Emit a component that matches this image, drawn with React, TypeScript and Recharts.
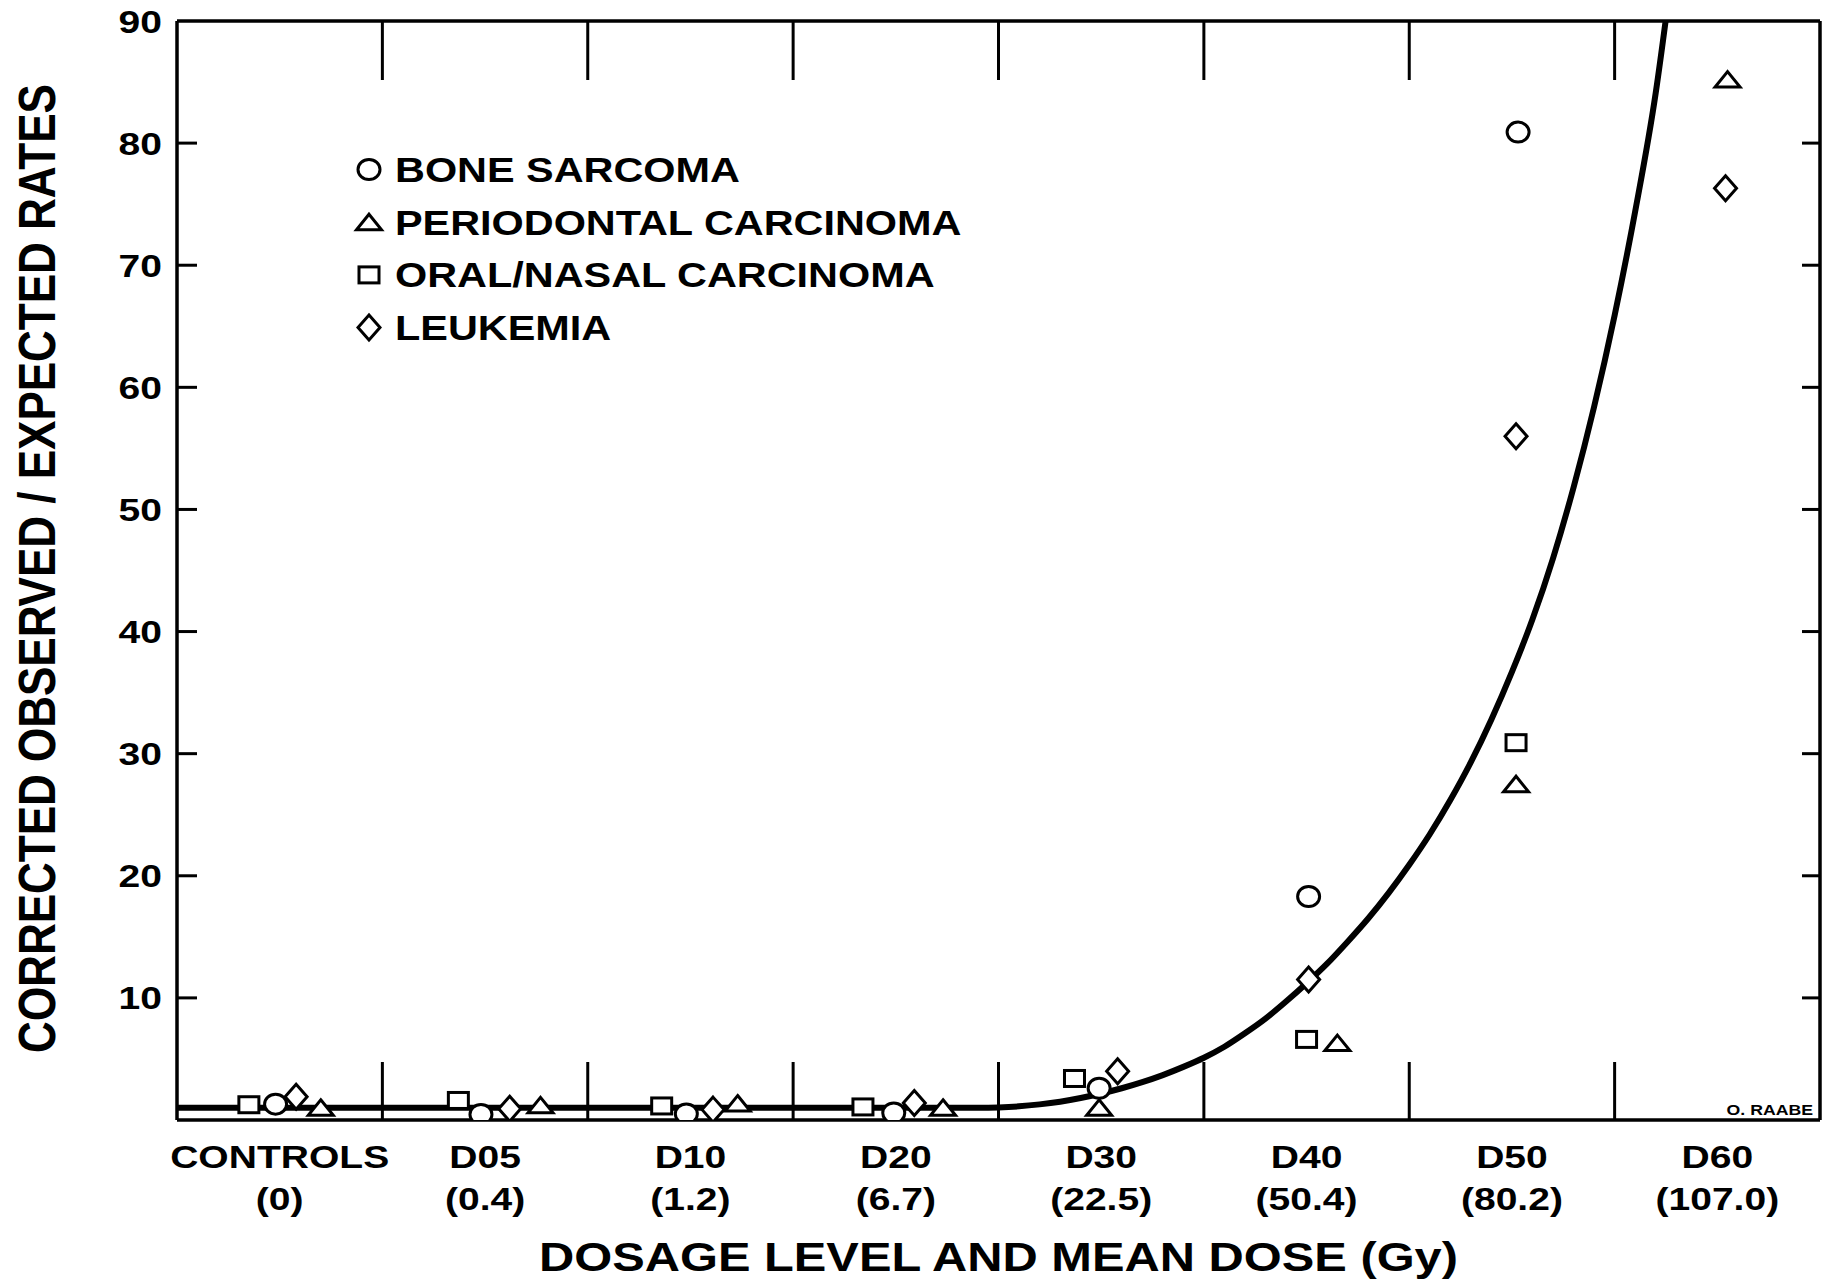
import React from 'react';
import { ComposedChart, XAxis, YAxis, Line, Scatter, Legend, ReferenceLine } from 'recharts';

// ---------- data ----------
const categories = ['CONTROLS', 'D05', 'D10', 'D20', 'D30', 'D40', 'D50', 'D60'];
const meanDoses = ['(0)', '(0.4)', '(1.2)', '(6.7)', '(22.5)', '(50.4)', '(80.2)', '(107.0)'];
const yTicks = [10, 20, 30, 40, 50, 60, 70, 80, 90];
const bandEdges = [1, 2, 3, 4, 5, 6, 7];
const bandCenters = [0.5, 1.5, 2.5, 3.5, 4.5, 5.5, 6.5, 7.5];

// x = position inside the dosage band (band i spans i..i+1), y = observed/expected
const boneSarcoma = [
  { x: 0.48, y: 1.3 },
  { x: 1.48, y: 0.45 },
  { x: 2.48, y: 0.5 },
  { x: 3.49, y: 0.57 },
  { x: 4.49, y: 2.6 },
  { x: 5.51, y: 18.3 },
  { x: 6.53, y: 80.9 },
];
const periodontalCarcinoma = [
  { x: 0.7, y: 1.0 },
  { x: 1.77, y: 1.2 },
  { x: 2.73, y: 1.35 },
  { x: 3.73, y: 1.0 },
  { x: 4.49, y: 1.0 },
  { x: 5.65, y: 6.3 },
  { x: 6.52, y: 27.5 },
  { x: 7.55, y: 85.2 },
];
const oralNasalCarcinoma = [
  { x: 0.35, y: 1.25 },
  { x: 1.37, y: 1.6 },
  { x: 2.36, y: 1.15 },
  { x: 3.34, y: 1.07 },
  { x: 4.37, y: 3.4 },
  { x: 5.5, y: 6.6 },
  { x: 6.52, y: 30.9 },
];
const leukemia = [
  { x: 0.58, y: 1.9 },
  { x: 1.62, y: 0.92 },
  { x: 2.61, y: 0.85 },
  { x: 3.59, y: 1.4 },
  { x: 4.58, y: 4.0 },
  { x: 5.51, y: 11.5 },
  { x: 6.52, y: 56.0 },
  { x: 7.54, y: 76.3 },
];
// fitted curve
const fitCurve = [
  { x: 0, y: 1.0 },
  { x: 3.8, y: 1.0 },
  { x: 3.9, y: 1.0 },
  { x: 4.0, y: 1.03 },
  { x: 4.1, y: 1.12 },
  { x: 4.2, y: 1.28 },
  { x: 4.3, y: 1.5 },
  { x: 4.4, y: 1.8 },
  { x: 4.5, y: 2.17 },
  { x: 4.6, y: 2.6 },
  { x: 4.7, y: 3.1 },
  { x: 4.8, y: 3.68 },
  { x: 4.9, y: 4.35 },
  { x: 5.0, y: 5.1 },
  { x: 5.1, y: 6.0 },
  { x: 5.2, y: 7.1 },
  { x: 5.3, y: 8.3 },
  { x: 5.4, y: 9.7 },
  { x: 5.5, y: 11.2 },
  { x: 5.6, y: 12.8 },
  { x: 5.7, y: 14.6 },
  { x: 5.8, y: 16.5 },
  { x: 5.9, y: 18.6 },
  { x: 6.0, y: 20.9 },
  { x: 6.1, y: 23.4 },
  { x: 6.2, y: 26.2 },
  { x: 6.3, y: 29.3 },
  { x: 6.4, y: 32.8 },
  { x: 6.5, y: 36.7 },
  { x: 6.6, y: 41.0 },
  { x: 6.7, y: 46.0 },
  { x: 6.8, y: 51.8 },
  { x: 6.9, y: 58.4 },
  { x: 7.0, y: 65.9 },
  { x: 7.1, y: 74.4 },
  { x: 7.2, y: 84.1 },
  { x: 7.26, y: 91.5 },
];

const seriesNames = ['BONE SARCOMA', 'PERIODONTAL CARCINOMA', 'ORAL/NASAL CARCINOMA', 'LEUKEMIA'];

// ---------- styling ----------
const FONT = "'Liberation Sans', Arial, Helvetica, sans-serif";
const SX = 1.22;
const INK = '#000';

const StretchText = ({ x, y, size, anchor, children, sx = SX }: any) => (
  <text
    transform={`translate(${x},${y}) scale(${sx},1)`}
    textAnchor={anchor}
    fontFamily={FONT}
    fontWeight={700}
    fontSize={size}
    fill={INK}
  >
    {children}
  </text>
);

// ---------- marker shapes ----------
const CircleMark = ({ cx, cy }: any) => (
  <ellipse cx={cx} cy={cy} rx={11} ry={10} fill="#fff" stroke={INK} strokeWidth={3} />
);
const TriangleMark = ({ cx, cy }: any) => (
  <polygon
    points={`${cx},${cy - 8} ${cx + 12.5},${cy + 7.5} ${cx - 12.5},${cy + 7.5}`}
    fill="#fff"
    stroke={INK}
    strokeWidth={3}
  />
);
const SquareMark = ({ cx, cy }: any) => (
  <rect x={cx - 10} y={cy - 8} width={20} height={16} fill="#fff" stroke={INK} strokeWidth={3} />
);
const DiamondMark = ({ cx, cy }: any) => (
  <polygon
    points={`${cx},${cy - 12.5} ${cx + 11},${cy} ${cx},${cy + 12.5} ${cx - 11},${cy}`}
    fill="#fff"
    stroke={INK}
    strokeWidth={3}
  />
);
const markShapes = [CircleMark, TriangleMark, SquareMark, DiamondMark];

// ---------- axis ticks ----------
const bottomTicks = [...bandEdges, ...bandCenters].sort((a, b) => a - b);

const BottomTick = (props: any) => {
  const { x, y, payload } = props;
  const v = payload.value;
  if (Number.isInteger(v)) {
    return <line x1={x} x2={x} y1={y} y2={y - 58} stroke={INK} strokeWidth={3} />;
  }
  const i = Math.floor(v);
  return (
    <g>
      <StretchText x={x} y={y + 47.5} size={32} anchor="middle">
        {categories[i]}
      </StretchText>
      <StretchText x={x} y={y + 89.5} size={32} anchor="middle">
        {meanDoses[i]}
      </StretchText>
    </g>
  );
};

// upper half of each band divider (hangs down from the top frame)
const TopDivider = (p: any) => {
  const top = Math.min(p.y1, p.y2);
  return <line x1={p.x1} x2={p.x1} y1={top} y2={top + 59} stroke={INK} strokeWidth={3} />;
};

const LeftTick = (props: any) => {
  const { x, y, payload } = props;
  return (
    <g>
      {payload.value < 90 && <line x1={x} x2={x + 20} y1={y} y2={y} stroke={INK} strokeWidth={3} />}
      <StretchText x={x - 15} y={y + 11.5} size={32} anchor="end">
        {payload.value}
      </StretchText>
    </g>
  );
};

const RightTick = (props: any) => {
  const { x, y, payload } = props;
  if (payload.value >= 90) return <g />;
  return <line x1={x} x2={x - 18} y1={y} y2={y} stroke={INK} strokeWidth={3} />;
};

// ---------- axis titles ----------
const YTitle = (props: any) => {
  const vb = props.viewBox || { x: 0, y: 0, width: 0, height: 0 };
  const cx = vb.x + 54.5;
  const cy = vb.y + vb.height / 2 - 2;
  return (
    <text
      transform={`translate(${cx},${cy}) scale(1.16,1) rotate(-90)`}
      textAnchor="middle"
      fontFamily={FONT}
      fontWeight={700}
      fontSize={44}
      fill={INK}
    >
      CORRECTED OBSERVED / EXPECTED RATES
    </text>
  );
};

const XTitle = (props: any) => {
  const vb = props.viewBox || { x: 0, y: 0, width: 0, height: 0 };
  return (
    <StretchText x={vb.x + vb.width / 2} y={vb.y + 151} size={40} anchor="middle">
      DOSAGE LEVEL AND MEAN DOSE (Gy)
    </StretchText>
  );
};

const Credit = (props: any) => {
  const vb = props.viewBox || { x: 0, y: 0, width: 0, height: 0 };
  return (
    <StretchText x={vb.x - 7} y={vb.y + vb.height - 5} size={14.5} anchor="end">
      O. RAABE
    </StretchText>
  );
};

// ---------- legend ----------
const LegendContent = () => (
  <svg width={700} height={230} style={{ display: 'block', overflow: 'visible' }}>
    {seriesNames.map((name, i) => {
      const cy = 29.5 + i * 52.7;
      const Mark = markShapes[i];
      return (
        <g key={name}>
          <Mark cx={29} cy={cy} />
          <StretchText x={55} y={cy + 12.4} size={34.5} anchor="start" sx={1.2}>
            {name}
          </StretchText>
        </g>
      );
    })}
  </svg>
);

const seriesData = [boneSarcoma, periodontalCarcinoma, oralNasalCarcinoma, leukemia];
const axisLineStyle = { stroke: INK, strokeWidth: 3.5 };

export default function App() {
  return (
    <div style={{ position: 'absolute', left: 0, top: 0, width: 1826, height: 1284, background: '#fff' }}>
      <ComposedChart width={1826} height={1284} margin={{ top: 0, right: 0, bottom: 0, left: 0 }}>
        <XAxis
          xAxisId="main"
          dataKey="x"
          type="number"
          domain={[0, 8]}
          allowDataOverflow
          ticks={bottomTicks}
          interval={0}
          height={164}
          tickSize={0}
          tickMargin={0}
          tickLine={false}
          axisLine={axisLineStyle}
          tick={<BottomTick />}
          label={{ content: XTitle }}
        />
        <XAxis
          xAxisId="top"
          orientation="top"
          type="number"
          domain={[0, 8]}
          allowDataOverflow
          ticks={bandEdges}
          height={21}
          tickLine={false}
          axisLine={axisLineStyle}
          tick={false}
        />
        <YAxis
          yAxisId="left"
          dataKey="y"
          type="number"
          domain={[0, 90]}
          allowDataOverflow
          ticks={yTicks}
          interval={0}
          width={177}
          tickSize={0}
          tickMargin={0}
          tickLine={false}
          axisLine={axisLineStyle}
          tick={<LeftTick />}
          label={{ content: YTitle }}
        />
        <YAxis
          yAxisId="right"
          orientation="right"
          type="number"
          domain={[0, 90]}
          allowDataOverflow
          ticks={yTicks}
          interval={0}
          width={6}
          tickSize={0}
          tickMargin={0}
          tickLine={false}
          axisLine={axisLineStyle}
          tick={<RightTick />}
          label={{ content: Credit }}
        />
        <Legend
          layout="vertical"
          align="center"
          verticalAlign="middle"
          wrapperStyle={{ position: 'absolute', left: 340, top: 140, width: 700, height: 230 }}
          content={<LegendContent />}
        />
        {bandEdges.map((e) => (
          <ReferenceLine
            key={`div-${e}`}
            xAxisId="main"
            yAxisId="left"
            x={e}
            ifOverflow="visible"
            shape={TopDivider}
          />
        ))}
        <Line
          xAxisId="main"
          yAxisId="left"
          data={fitCurve}
          dataKey="y"
          type="monotone"
          stroke={INK}
          strokeWidth={6}
          dot={false}
          activeDot={false}
          legendType="none"
          isAnimationActive={false}
        />
        {seriesData.map((d, i) => {
          const Mark = markShapes[i];
          return (
            <Scatter
              key={seriesNames[i]}
              xAxisId="main"
              yAxisId="left"
              name={seriesNames[i]}
              data={d}
              shape={(p: any) => <Mark cx={p.cx} cy={p.cy} />}
              isAnimationActive={false}
            />
          );
        })}
      </ComposedChart>
    </div>
  );
}
